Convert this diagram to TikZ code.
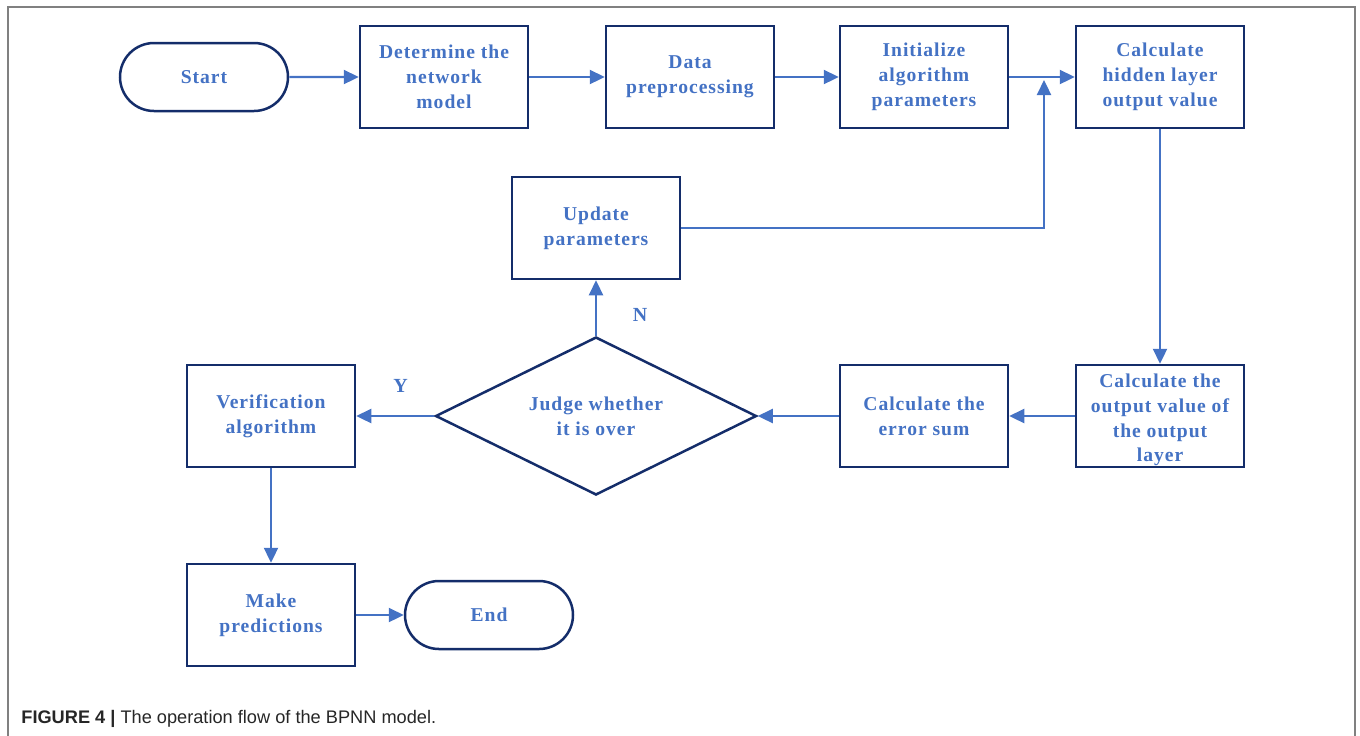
\documentclass[tikz,border=0pt]{standalone}
\usepackage{fontspec}
\setmainfont{Liberation Serif}
\newfontfamily\boxfont[LetterSpace=5]{Liberation Serif}
\newfontfamily\capfont{Liberation Sans}
\usetikzlibrary{shapes.misc,shapes.geometric,arrows.meta}
\definecolor{navy}{HTML}{142D6A}
\definecolor{flowblue}{HTML}{4472C4}
\definecolor{framegray}{HTML}{808080}
\begin{document}
\begin{tikzpicture}[x=0.5pt,y=-0.5pt,
  every node/.style={font=\boxfont\fontsize{9.8pt}{12.6pt}\selectfont\bfseries, text=flowblue, align=center},
  procbox/.style={draw=navy, line width=1.25pt, rectangle, minimum width=84pt, minimum height=51pt, inner sep=0pt, fill=white},
  termbox/.style={draw=navy, line width=1.25pt, rounded rectangle, minimum width=84pt, minimum height=34pt, inner sep=0pt, fill=white},
  decbox/.style={draw=navy, line width=1.25pt, diamond, minimum width=160.5pt, minimum height=79pt, inner sep=0pt, fill=white},
  flow/.style={draw=flowblue, line width=1.15pt, -{Triangle[length=7.5pt,width=7pt]}},
  lbl/.style={font=\fontsize{10pt}{12pt}\selectfont\bfseries, inner sep=0pt}]
\useasboundingbox (0,0) rectangle (1360,735);
% open frame around the figure
\draw[framegray, line width=1pt] (8,736) -- (8,7) -- (1355,7) -- (1355,736);

% top row
\node[termbox] (start) at (204,77) {Start};
\node[procbox] (det) at (444,77) {Determine the\\network\\model};
\node[procbox] (prep) at (690,77) {Data\\preprocessing};
\node[procbox] (init) at (924,77) {Initialize\\algorithm\\parameters};
\node[procbox] (hid) at (1160,77) {Calculate\\hidden layer\\output value};

% feedback box
\node[procbox] (upd) at (596,228) {Update\\parameters};

% middle row
\node[procbox, inner ysep=-2pt, font=\boxfont\fontsize{9.8pt}{12.3pt}\selectfont\bfseries] (outv) at (1160,416)
  {\rule{0pt}{11pt}Calculate the\\output value of\\the output\\layer};
\node[procbox] (err) at (924,416) {Calculate the\\error sum};
% decision: fixed-size diamond with its question set on top
\node[decbox] (judge) at (596,416) {};
\node (judgetext) at (judge.center) {Judge whether\\it is over};
\node[procbox] (ver) at (271,416) {Verification\\algorithm};

% bottom row
\node[procbox] (pred) at (271,615) {Make\\predictions};
\node[termbox] (fin) at (489,615) {End};

% connectors
\draw[flow] (start) -- (det);
\draw[flow] (det) -- (prep);
\draw[flow] (prep) -- (init);
\draw[flow] (init) -- (hid);
\coordinate (fbtop) at (1044,80);
\draw[flow] (upd.east) -| (fbtop);
\draw[flow] (hid) -- (outv);
\draw[flow] (outv) -- (err);
\draw[flow] (err) -- (judge.east);
\draw[flow] (judge.west) -- (ver.east) node[lbl, pos=0.43, yshift=15pt] {Y};
\draw[flow] (judge.north) -- (upd.south) node[lbl, pos=0.37, xshift=22pt] {N};
\draw[flow] (ver) -- (pred);
\draw[flow] (pred) -- (fin);

% caption
\node[anchor=base west, inner sep=0pt, text=black!85, font=\capfont\fontsize{9.1pt}{11pt}\selectfont] (cap) at (21,723)
  {\textbf{FIGURE 4 |} The operation flow of the BPNN model.};
\end{tikzpicture}
\end{document}
